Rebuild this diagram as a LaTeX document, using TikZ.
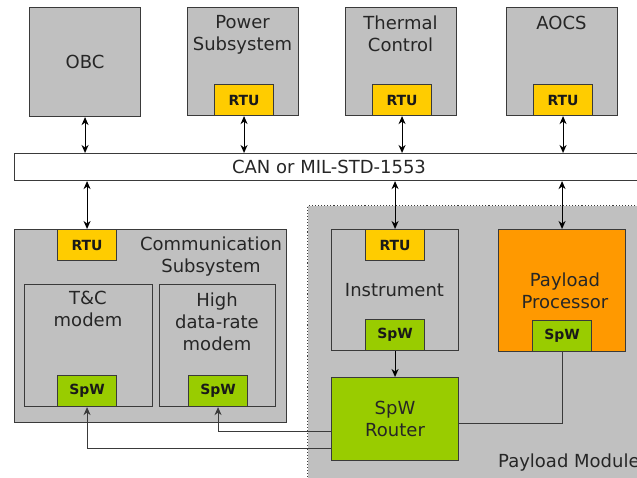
\documentclass[tikz,border=0pt]{standalone}
\usepackage{fontspec}
\setmainfont{DejaVu Sans}
\usetikzlibrary{arrows.meta,calc}
\definecolor{boxgray}{HTML}{C0C0C0}
\definecolor{linec}{HTML}{3A3A3A}
\definecolor{rtuyellow}{HTML}{FFCC00}
\definecolor{spwgreen}{HTML}{99CC00}
\definecolor{procorange}{HTML}{FF9900}
\begin{document}
\begin{tikzpicture}[x=1pt,y=-1pt,
  box/.style={draw=linec, fill=boxgray, line width=1.1pt, inner sep=0pt, anchor=north west},
  rtu/.style={box, fill=rtuyellow, minimum width=59pt, minimum height=31pt, font=\fontsize{14}{16}\selectfont\bfseries, text=black!90},
  spw/.style={box, fill=spwgreen, minimum width=59pt, minimum height=31pt, font=\fontsize{14}{16}\selectfont\bfseries, text=black!90},
  txt/.style={font=\fontsize{18}{22}\selectfont, align=center, inner sep=0pt, text=black!85},
  tip/.tip={Stealth[length=8pt,width=7pt,inset=2.5pt]},
  bidir/.style={tip-tip, draw=black, line width=1.1pt},
  uni/.style={-tip, draw=black, line width=1.1pt},
  wire/.style={draw=linec, line width=1.1pt}
]
\useasboundingbox (0,0) rectangle (637,477);
\fill[white] (0,0) rectangle (637,477);

% payload module background
\node[box, dotted, line width=1.3pt, minimum width=340pt, minimum height=280pt] (pm) at (307,205) {};
\node[txt, anchor=west] (pmtxt) at (498,463) {Payload Module};

% top row
\node[box, minimum width=111pt, minimum height=109pt, font=\fontsize{18}{22}\selectfont, text=black!85] (obc) at (29,7) {OBC};
\node[box, minimum width=111pt, minimum height=108pt] (pwr) at (187,7) {};
\node[txt] (pwrtxt) at (242.5,34.5) {Power\\Subsystem};
\node[rtu] (prtu) at (214,84) {RTU};
\node[box, minimum width=111pt, minimum height=108pt] (thm) at (345,7) {};
\node[txt] (thmtxt) at (400.5,34) {Thermal\\Control};
\node[rtu] (trtu) at (372,84) {RTU};
\node[box, minimum width=111pt, minimum height=108pt] (aocs) at (506,7) {};
\node[txt] (aocstxt) at (561.5,23) {AOCS};
\node[rtu] (artu) at (533,84) {RTU};

% bus
\node[box, fill=white, minimum width=640pt, minimum height=27pt] (bus) at (14,153) {};
\node[txt] (bustxt) at (329,166.5) {CAN or MIL-STD-1553};

% communication subsystem
\node[box, minimum width=272pt, minimum height=193pt] (com) at (14,229) {};
\node[rtu] (crtu) at (57,229) {RTU};
\node[txt] (comtxt) at (211,257) {Communication\\Subsystem};
\node[box, minimum width=128pt, minimum height=122pt] (tc) at (24,284) {};
\node[txt] (tctxt) at (88,309) {T\&C\\modem};
\node[spw] (tspw) at (57,375) {SpW};
\node[box, minimum width=116pt, minimum height=122pt] (hdr) at (159,284) {};
\node[txt] (hdrtxt) at (217,322) {High\\data-rate\\modem};
\node[spw] (hspw) at (188,375) {SpW};

% payload
\node[box, minimum width=127pt, minimum height=121pt] (ins) at (331,229) {};
\node[rtu] (irtu) at (365,229) {RTU};
\node[txt] (instxt) at (394.5,290) {Instrument};
\node[spw] (ispw) at (365,319) {SpW};
\node[box, fill=procorange, minimum width=127pt, minimum height=122pt] (pp) at (498,229) {};
\node[txt] (pptxt) at (565,291) {Payload\\Processor};
\node[spw] (pspw) at (532,320) {SpW};
\node[box, fill=spwgreen, minimum width=127pt, minimum height=83pt, font=\fontsize{18}{22}\selectfont, align=center, text=black!85] (rtr) at (331,377) {SpW\\Router};

% bus connections
\draw[bidir] (obc.south) -- (obc.south |- bus.north);
\draw[bidir] (prtu.south) -- (prtu.south |- bus.north);
\draw[bidir] (trtu.south) -- (trtu.south |- bus.north);
\draw[bidir] (artu.south) -- (artu.south |- bus.north);
\draw[bidir] (crtu.north |- bus.south) -- (crtu.north);
\draw[bidir] (irtu.north |- bus.south) -- (irtu.north);
\draw[bidir] (pp.north |- bus.south) -- (pp.north);

% spacewire
\draw[uni] (ispw.south) -- (rtr.north);
\draw[wire] (pspw.south) |- ([yshift=-4.5pt]rtr.east);
\draw[wire, -tip] ([yshift=-12.5pt]rtr.west) -| (hspw.south);
\draw[wire, -tip] ([yshift=-29.5pt]rtr.west) -| (tspw.south);
\end{tikzpicture}
\end{document}
